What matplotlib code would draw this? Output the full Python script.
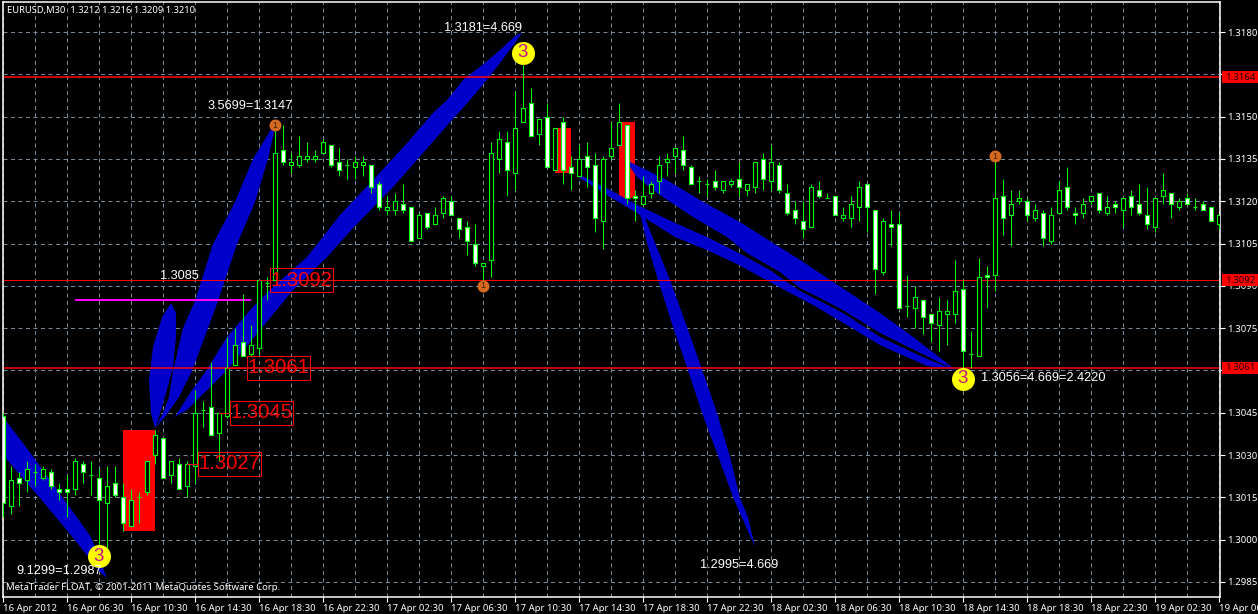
import numpy as np
import matplotlib
matplotlib.use('Agg')
import matplotlib.pyplot as plt
from matplotlib.patches import Rectangle, Polygon
from matplotlib.transforms import Affine2D

# candles, one entry per 30 min bar
opens = [1.3044,1.3012,1.3022,1.3021,1.3024,1.3022,1.3024,1.3018,1.3018,1.3018,
         1.3027,1.3023,1.3022,1.3013,1.3020,1.3015,1.3005,1.3015,1.3017,1.3030,
         1.3036,1.3023,1.3027,1.3019,1.3026,1.3046,1.3047,1.3038,1.3044,1.3062,
         1.3070,1.3066,1.3068,1.3091,1.3092,1.3138,1.3133,1.3133,1.3135,1.3135,
         1.3137,1.3140,1.3134,1.3133,1.3132,1.3133,1.3133,1.3126,1.3117,1.3117,
         1.3119,1.3118,1.3107,1.3116,1.3112,1.3116,1.3120,1.3114,1.3111,1.3105,
         1.3097,1.3099,1.3135,1.3141,1.3130,1.3148,1.3155,1.3144,1.3150,1.3131,
         1.3148,1.3132,1.3129,1.3136,1.3133,1.3113,1.3136,1.3140,1.3147,1.3122,
         1.3119,1.3123,1.3127,1.3134,1.3136,1.3138,1.3132,1.3127,1.3126,1.3127,
         1.3124,1.3126,1.3128,1.3124,1.3125,1.3135,1.3127,1.3133,1.3123,1.3117,
         1.3113,1.3111,1.3124,1.3121,1.3122,1.3114,1.3114,1.3118,1.3126,1.3117,
         1.3095,1.3112,1.3112,1.3083,1.3082,1.3085,1.3080,1.3076,1.3080,1.3080,
         1.3089,1.3066,1.3065,1.3094,1.3094,1.3122,1.3115,1.3120,1.3120,1.3114,
         1.3116,1.3106,1.3116,1.3125,1.3116,1.3116,1.3120,1.3123,1.3116,1.3119,
         1.3117,1.3122,1.3119,1.3115,1.3111,1.3122,1.3123,1.3118,1.3121,1.3118,
         1.3119,1.3118,1.3112]
highs = [1.3045,1.3026,1.3024,1.3028,1.3027,1.3026,1.3025,1.3020,1.3023,1.3029,
         1.3028,1.3028,1.3025,1.3026,1.3026,1.3020,1.3018,1.3017,1.3028,1.3039,
         1.3036,1.3028,1.3029,1.3028,1.3053,1.3049,1.3063,1.3045,1.3072,1.3075,
         1.3087,1.3076,1.3092,1.3093,1.3147,1.3147,1.3137,1.3143,1.3141,1.3138,
         1.3142,1.3140,1.3139,1.3135,1.3136,1.3136,1.3133,1.3127,1.3122,1.3123,
         1.3126,1.3118,1.3116,1.3116,1.3118,1.3122,1.3122,1.3114,1.3113,1.3112,
         1.3098,1.3141,1.3145,1.3145,1.3159,1.3170,1.3160,1.3149,1.3155,1.3146,
         1.3150,1.3136,1.3140,1.3141,1.3137,1.3136,1.3148,1.3155,1.3147,1.3124,
         1.3129,1.3127,1.3136,1.3137,1.3139,1.3143,1.3133,1.3129,1.3128,1.3131,
         1.3127,1.3128,1.3134,1.3126,1.3134,1.3137,1.3140,1.3134,1.3126,1.3120,
         1.3120,1.3126,1.3127,1.3123,1.3122,1.3118,1.3122,1.3127,1.3126,1.3117,
         1.3114,1.3117,1.3116,1.3094,1.3090,1.3085,1.3080,1.3086,1.3085,1.3099,
         1.3092,1.3074,1.3100,1.3097,1.3135,1.3128,1.3124,1.3124,1.3121,1.3119,
         1.3117,1.3118,1.3127,1.3132,1.3118,1.3121,1.3122,1.3123,1.3122,1.3120,
         1.3121,1.3124,1.3126,1.3125,1.3121,1.3130,1.3123,1.3121,1.3123,1.3121,
         1.3120,1.3118,1.3115]
lows = [1.3008,1.3009,1.3012,1.3017,1.3019,1.3021,1.3018,1.3014,1.3008,1.3016,
        1.3020,1.3016,1.2994,1.2997,1.3015,1.3003,1.3005,1.3006,1.3016,1.3027,
        1.3022,1.3020,1.3018,1.3015,1.3020,1.3040,1.3037,1.3028,1.3043,1.3062,
        1.3065,1.3065,1.3066,1.3085,1.3092,1.3133,1.3130,1.3132,1.3134,1.3134,
        1.3137,1.3132,1.3129,1.3128,1.3128,1.3129,1.3123,1.3117,1.3115,1.3115,
        1.3116,1.3106,1.3107,1.3110,1.3112,1.3114,1.3115,1.3107,1.3101,1.3097,
        1.3091,1.3093,1.3130,1.3122,1.3124,1.3148,1.3143,1.3140,1.3132,1.3131,
        1.3126,1.3124,1.3129,1.3125,1.3109,1.3103,1.3135,1.3140,1.3119,1.3113,
        1.3119,1.3121,1.3123,1.3129,1.3130,1.3131,1.3126,1.3123,1.3122,1.3124,
        1.3123,1.3125,1.3122,1.3122,1.3123,1.3124,1.3124,1.3123,1.3115,1.3112,
        1.3107,1.3111,1.3121,1.3121,1.3115,1.3113,1.3111,1.3113,1.3109,1.3087,
        1.3094,1.3104,1.3082,1.3079,1.3075,1.3073,1.3070,1.3067,1.3069,1.3077,
        1.3056,1.3061,1.3065,1.3082,1.3088,1.3108,1.3104,1.3119,1.3113,1.3113,
        1.3104,1.3105,1.3116,1.3117,1.3112,1.3114,1.3119,1.3116,1.3115,1.3116,
        1.3111,1.3115,1.3115,1.3110,1.3109,1.3119,1.3114,1.3117,1.3119,1.3117,
        1.3117,1.3113,1.3110]
closes = [1.3013,1.3021,1.3020,1.3025,1.3024,1.3025,1.3019,1.3017,1.3017,1.3028,
          1.3024,1.3023,1.3014,1.3019,1.3016,1.3006,1.3014,1.3015,1.3028,1.3037,
          1.3022,1.3028,1.3018,1.3027,1.3045,1.3046,1.3037,1.3045,1.3061,1.3069,
          1.3065,1.3069,1.3092,1.3091,1.3137,1.3134,1.3134,1.3136,1.3136,1.3136,
          1.3141,1.3133,1.3131,1.3133,1.3134,1.3134,1.3125,1.3118,1.3118,1.3120,
          1.3117,1.3106,1.3115,1.3111,1.3115,1.3121,1.3115,1.3110,1.3106,1.3098,
          1.3098,1.3137,1.3142,1.3131,1.3146,1.3153,1.3143,1.3149,1.3132,1.3146,
          1.3131,1.3130,1.3135,1.3132,1.3114,1.3135,1.3139,1.3148,1.3121,1.3121,
          1.3122,1.3126,1.3133,1.3135,1.3139,1.3133,1.3126,1.3127,1.3126,1.3125,
          1.3127,1.3127,1.3125,1.3126,1.3134,1.3128,1.3134,1.3124,1.3116,1.3114,
          1.3110,1.3125,1.3122,1.3121,1.3115,1.3115,1.3119,1.3125,1.3118,1.3096,
          1.3113,1.3111,1.3082,1.3083,1.3086,1.3079,1.3077,1.3081,1.3081,1.3088,
          1.3067,1.3066,1.3093,1.3093,1.3121,1.3114,1.3119,1.3121,1.3115,1.3117,
          1.3107,1.3115,1.3124,1.3118,1.3115,1.3119,1.3122,1.3117,1.3118,1.3118,
          1.3121,1.3118,1.3116,1.3112,1.3121,1.3124,1.3119,1.3120,1.3119,1.3118,
          1.3117,1.3113,1.3115]

# hand drawn ellipses on the chart: outline as bar number and price
ribbon1_bars = [0,3.62,7.5,11,13,12.12,9,4.62,0]
ribbon1_prices = [1.30435,1.30300,1.30148,1.30009,1.29864,1.29885,1.29999,1.30148,1.30300]
ribbon2_bars = [19,18.5,18.25,18.75,19.88,21,21.62,21.62,21.25,20.38,19.5]
ribbon2_prices = [1.30396,1.30449,1.30566,1.30683,1.30789,1.30839,1.30804,1.30719,1.30612,1.30520,1.30435]
ribbon3_bars = [19,20,20.75,21.25,22.5,24,26.25,29,31.25,33.62,34,33.12,31.5,29.25,26.88,25.62,23.62,22,20.25]
ribbon3_prices = [1.30396,1.30449,1.30506,1.30598,1.30750,1.30846,1.31048,1.31197,1.31350,1.31460,
                  1.31460,1.31350,1.31197,1.31048,1.30846,1.30750,1.30598,1.30506,1.30435]
ribbon4_bars = [19,23,25.5,28,32.12,36.25,40.5,43.75,48.75,52.5,56.12,58.38,59.62,61.75,63.62,64.88,
                64.12,62.12,59.62,57.75,55.5,53.75,50.5,46.25,42.12,38,33.75,31.25,28,25.38,23.38,21.5]
ribbon4_prices = [1.30396,1.30460,1.30530,1.30601,1.30743,1.30885,1.31002,1.31105,1.31250,1.31371,1.31488,1.31559,1.31601,1.31676,1.31747,1.31796,
                  1.31789,1.31736,1.31676,1.31637,1.31559,1.31513,1.31406,1.31275,1.31151,1.31002,1.30896,1.30825,1.30719,1.30598,1.30520,1.30435]
ribbon5_bars = [78.38,83,87.12,92.12,96.25,99.62,103.38,109.62,113.75,118.62,119,
                109.62,105,102.12,99.62,97.12,93,90.5,86.25,81.75,79.25,78.38]
ribbon5_prices = [1.31339,1.31275,1.31204,1.31126,1.31052,1.30992,1.30921,1.30804,1.30719,1.30612,1.30601,
                  1.30733,1.30814,1.30857,1.30892,1.30949,1.31016,1.31073,1.31144,1.31229,1.31286,1.31321]
ribbon6_bars = [72.12,75.88,79.25,84,88,92,95.88,97.12,99.62,102.12,105,109.62,115.25,119,
                115.5,109.62,105.5,101.25,95.88,92,88,84,79.25,75.88,72.12]
ribbon6_prices = [1.31293,1.31240,1.31187,1.31123,1.31073,1.31016,1.30956,1.30931,1.30882,1.30846,1.30804,1.30719,1.30644,1.30601,
                  1.30616,1.30690,1.30761,1.30832,1.30913,1.30974,1.31027,1.31073,1.31158,1.31215,1.31282]
ribbon7_bars = [79.62,80.5,81.88,83.75,85.62,87.38,89.25,91.25,94,93.12,92.12,90.88,89.25,87.5,85.5,83.38,81.5,80.25]
ribbon7_prices = [1.31158,1.31052,1.30921,1.30754,1.30601,1.30449,1.30307,1.30151,1.29974,
                  1.30080,1.30148,1.30293,1.30449,1.30594,1.30754,1.30921,1.31052,1.31140]
ribbons = [(ribbon1_bars, ribbon1_prices), (ribbon2_bars, ribbon2_prices), (ribbon3_bars, ribbon3_prices),
           (ribbon4_bars, ribbon4_prices), (ribbon5_bars, ribbon5_prices), (ribbon6_bars, ribbon6_prices),
           (ribbon7_bars, ribbon7_prices)]

# red rectangles: first bar, last bar, top price, bottom price
box_first = [15, 69, 77]
box_last = [19, 71, 79]
box_top = [1.30389, 1.3146, 1.3148]
box_bottom = [1.3003, 1.3130, 1.3121]

level_prices = [1.3164, 1.3092, 1.3061]
level_labels = ['1.3164', '1.3092', '1.3061']
level_widths = [1.1, 0.72, 1.1]

label_prices = [1.3027, 1.3045, 1.3061, 1.3092]
label_texts = ['1.3027', '1.3045', '1.3061', '1.3092']
label_from = [23, 27, 28, 32]
label_bars = [24.4, 28.4, 30.5, 33.4]

yellow_bars = [12, 65, 120]
yellow_prices = [1.29942, 1.31726, 1.3057]
orange_bars = [34, 60, 124]
orange_prices = [1.3147, 1.3090, 1.3136]

y_ticks = [1.2985 + 0.0015 * k for k in range(14)]
x_labels = ['16 Apr 2012','16 Apr 06:30','16 Apr 10:30','16 Apr 14:30','16 Apr 18:30','16 Apr 22:30',
            '17 Apr 02:30','17 Apr 06:30','17 Apr 10:30','17 Apr 14:30','17 Apr 18:30','17 Apr 22:30',
            '18 Apr 02:30','18 Apr 06:30','18 Apr 10:30','18 Apr 14:30','18 Apr 18:30','18 Apr 22:30',
            '19 Apr 02:30','19 Apr 06:30']

GREEN = '#00ff00'
BLUE = '#0000cd'
TICK_FONT = 'Noto Sans'
OBJ_FONT = 'Liberation Sans'
TICK_SIZE = 6.9

W, H = 1258, 614
fig = plt.figure(figsize=(W / 100, H / 100), dpi=100, facecolor='black')
ax = fig.add_axes([3 / W, (H - 597) / H, (1220 - 3) / W, (597 - 2) / H], facecolor='black')
ax.set_xlim(0, 152.125)
ax.set_ylim(1.2985 - 15 / 2.82 * 0.0001, 1.3180 + 30 / 2.82 * 0.0001)

# pixels from the top left, for the free text
pix = Affine2D().scale(1, -1).translate(0, H)

ax.set_xticks(np.arange(0, 153, 8))
ax.set_xticklabels(x_labels, ha='left', color='white', fontsize=TICK_SIZE, family=TICK_FONT)
ax.set_xticks(np.arange(4, 153, 8), minor=True)
ax.set_yticks(y_ticks)
ax.set_yticklabels(['%.4f' % v for v in y_ticks], color='white', fontsize=TICK_SIZE, family=TICK_FONT)
ax.yaxis.tick_right()
ax.tick_params(axis='both', which='major', color='white', length=3.6, width=0.8, pad=1.5)
ax.tick_params(axis='x', which='minor', length=0)
ax.set_axisbelow(True)
ax.grid(True, which='both', color='#778899', linestyle=(0, (4, 3.5)), linewidth=0.72)
for s in ax.spines.values():
    s.set_color('white')
    s.set_linewidth(1.1)

for a, b, t, u in zip(box_first, box_last, box_top, box_bottom):
    ax.add_patch(Rectangle((a, u), b - a, t - u, facecolor='red', edgecolor='none', zorder=1))

for bx, py in ribbons:
    ax.add_patch(Polygon(np.column_stack([bx, py]), closed=True, facecolor=BLUE, edgecolor='none', zorder=2))

for p, w in zip(level_prices, level_widths):
    ax.axhline(p, color='red', linewidth=w, zorder=2.5)

ax.plot([9, 31], [1.3085, 1.3085], color='#ff00ff', linewidth=1.44, zorder=2.6, solid_capstyle='butt')

bars = np.arange(len(opens))
o = np.array(opens)
c = np.array(closes)
ax.vlines(bars, lows, highs, color=GREEN, linewidth=0.72, zorder=3)
fill = ['white' if cl < op else 'black' for op, cl in zip(o, c)]
body = ax.bar(bars, np.abs(c - o), bottom=np.minimum(o, c), width=0.55, color=fill, edgecolor=GREEN,
              linewidth=0.8, zorder=4)

# price labels with their short connector
for p, t, f, b in zip(label_prices, label_texts, label_from, label_bars):
    ax.plot([f, b], [p, p], color='red', linewidth=0.72, zorder=5)
    ax.add_patch(Rectangle((b, p - 12 / 2.82 * 0.0001), 63 / 8, 24 / 2.82 * 0.0001, facecolor='none',
                           edgecolor='red', linewidth=0.72, zorder=5))
    ax.text(b + 31.5 / 8, p, t, color='red', fontsize=14.6, family=OBJ_FONT, ha='center', va='center', zorder=6)

ax.scatter(yellow_bars, yellow_prices, s=275, color='#ffff00', zorder=7, linewidths=0)
for b, p in zip(yellow_bars, yellow_prices):
    ax.text(b, p, '3', color='#c71585', fontsize=13.5, family=OBJ_FONT, ha='center', va='center', zorder=8)
ax.scatter(orange_bars, orange_prices, s=75, color='#d2691e', zorder=7, linewidths=0)
for b, p in zip(orange_bars, orange_prices):
    ax.text(b, p, '1', color='#402000', fontsize=6.5, family=OBJ_FONT, ha='center', va='center', zorder=8)

# tags on the price scale
for p, t in zip(level_prices, level_labels):
    ax.add_patch(Rectangle((152.38, p - 6 / 2.82 * 0.0001), 36 / 8, 12 / 2.82 * 0.0001, facecolor='red',
                           edgecolor='none', clip_on=False, zorder=10))
    ax.text(152.38 + 18 / 8, p, t, color='#200000', fontsize=TICK_SIZE, family=TICK_FONT, ha='center', va='center',
            clip_on=False, zorder=11)

free_text = [(444, 28, '1.3181=4.669'), (208, 106, '3.5699=1.3147'), (160, 276, '1.3085'),
             (16, 571, '9.1299=1.2987'), (700, 565, '1.2995=4.669'), (981, 378, '1.3056=4.669=2.4220')]
for x, y, t in free_text:
    fig.text(x, y, t, color='white', fontsize=9.2, family=OBJ_FONT, va='center', ha='left', transform=pix, zorder=12)

fig.text(7, 11, 'EURUSD,M30  1.3212 1.3216 1.3209 1.3210', color='white', fontsize=6.75, family=TICK_FONT,
         va='center', ha='left', transform=pix)
fig.text(6, 588, 'MetaTrader FLOAT, \u00a9 2001-2011 MetaQuotes Software Corp.', color='white', fontsize=6.9,
         family=TICK_FONT, va='center', ha='left', transform=pix)

fig.savefig('out.png', dpi=100, facecolor='black')
